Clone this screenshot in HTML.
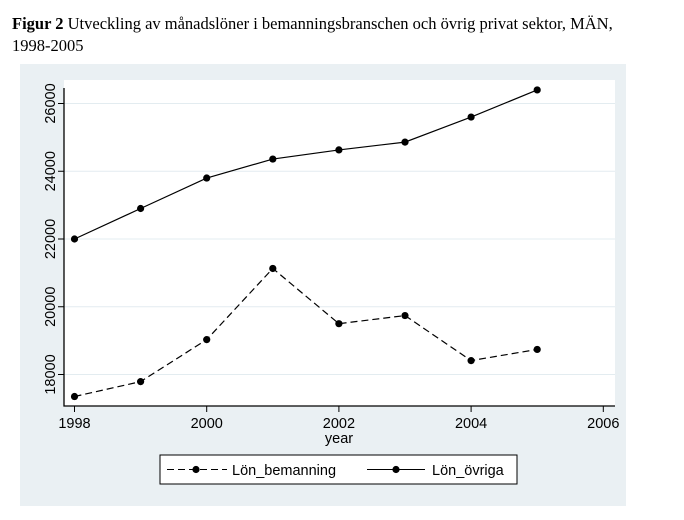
<!DOCTYPE html>
<html><head><meta charset="utf-8"><style>
body{margin:0;background:#fff;width:684px;height:520px;overflow:hidden}
.t{position:absolute;left:12px;top:13px;font-family:"Liberation Serif",serif;font-size:16.5px;line-height:22px;color:#000}
</style></head><body>
<div class="t"><b>Figur 2</b> Utveckling av månadslöner i bemanningsbranschen och övrig privat sektor, MÄN,<br>1998-2005</div>
<svg id="c" width="684" height="520" style="position:absolute;left:0;top:0" font-family="Liberation Sans, sans-serif">
<rect x="20" y="64" width="606" height="442" fill="#eaf0f3"/>
<rect x="64" y="80" width="551" height="326" fill="#fff"/>
</svg>
<script>
const years=[1998,1999,2000,2001,2002,2003,2004,2005];
const bemanning=[17350,17790,19030,21130,19500,19740,18410,18740];
const ovriga=[22000,22900,23800,24360,24630,24860,25600,26400];
const yTicks=[18000,20000,22000,24000,26000];
const xTicks=[1998,2000,2002,2004,2006];
const svg=document.getElementById('c');const NS='http://www.w3.org/2000/svg';
const X=v=>74.5+(v-1998)*66.1;
const Y=v=>374.5-(v-18000)*0.033875;
function mk(t,a,p){const e=document.createElementNS(NS,t);for(const k in a)e.setAttribute(k,a[k]);(p||svg).appendChild(e);return e;}
yTicks.forEach(v=>{
 const g=mk('line',{x1:64,x2:615,y1:Y(v),y2:Y(v),stroke:'#e3ecf0','stroke-width':1});
 
 
 mk('line',{x1:58,x2:64,y1:Y(v),y2:Y(v),stroke:'#000'});
 const t=mk('text',{x:0,y:0,'font-size':14.5,'text-anchor':'middle',transform:`translate(55,${Y(v)}) rotate(-90)`});
 t.textContent=v;
 
 
});
xTicks.forEach(v=>{
 mk('line',{x1:X(v),x2:X(v),y1:406,y2:412,stroke:'#000'});
 const t=mk('text',{x:X(v),y:428,'font-size':14.5,'text-anchor':'middle'});
 t.textContent=v;
 
 
});
const ax=mk('path',{d:'M64,88 V406 H615',fill:'none',stroke:'#000','stroke-width':1.3});


const xt=mk('text',{x:339,y:443,'font-size':14.5,'text-anchor':'middle'});xt.textContent='year';


function series(vals,dash,name){
 const l=mk('polyline',{points:vals.map((v,i)=>X(years[i])+','+Y(v)).join(' '),fill:'none',stroke:'#000','stroke-width':1.2});
 if(dash)l.setAttribute('stroke-dasharray',dash);
 
 
 vals.forEach((v,i)=>{const c=mk('circle',{cx:X(years[i]),cy:Y(v),r:3.6,fill:'#000'});
  
  });
}
series(bemanning,'7,4','bemanning');
series(ovriga,null,'ovriga');
const lg=mk('g',{});


mk('rect',{x:160,y:455,width:357,height:29,fill:'#fff',stroke:'#000'},lg);
mk('line',{x1:167,x2:227,y1:469.5,y2:469.5,stroke:'#000','stroke-dasharray':'7,4'},lg);
mk('circle',{cx:196,cy:469.5,r:3.6},lg);
const t1=mk('text',{x:232,y:475,'font-size':14.5},lg);t1.textContent='Lön_bemanning';


mk('line',{x1:367,x2:425,y1:469.5,y2:469.5,stroke:'#000'},lg);
mk('circle',{cx:396,cy:469.5,r:3.6},lg);
const t2=mk('text',{x:432,y:475,'font-size':14.5},lg);t2.textContent='Lön_övriga';


</script>
</body></html>
